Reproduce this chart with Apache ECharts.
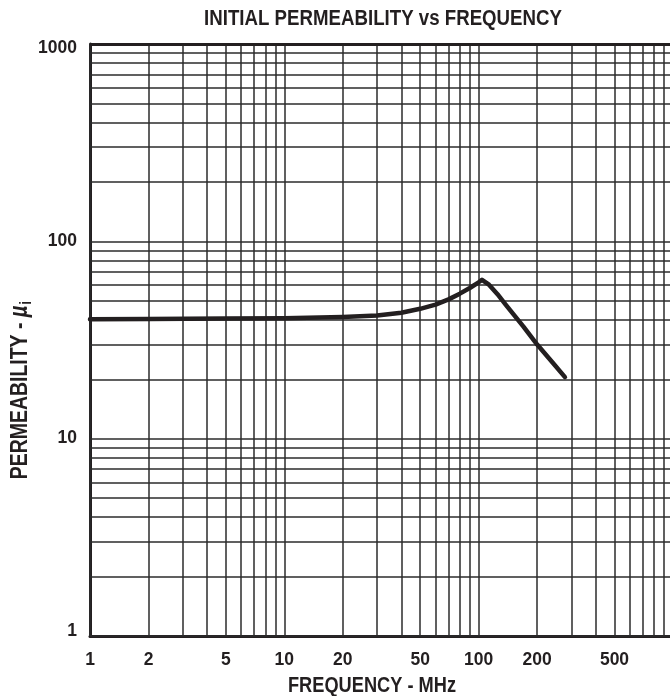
<!DOCTYPE html>
<html>
<head>
<meta charset="utf-8">
<script src="https://cdn.jsdelivr.net/npm/echarts@6/dist/echarts.min.js"></script>
<style>
  html, body { margin: 0; padding: 0; background: #ffffff; }
  #chart { width: 670px; height: 696px; }
</style>
</head>
<body>
<div id="chart"></div>
<script>
// Initial permeability (µi) versus frequency (MHz), log-log
const freqMHz = [1, 2, 5, 10, 20, 30, 40, 50, 60, 70, 80, 90, 100, 104, 113, 125, 138, 170, 200, 240, 278];
const permeability = [40.3, 40.4, 40.6, 40.8, 41.4, 42.1, 43.5, 45.5, 47.8, 50.8, 54.3, 58, 62, 63.8, 60.3, 54, 47.7, 37, 30, 24.3, 20.5];

const xTickLabels = [1, 2, 5, 10, 20, 50, 100, 200, 500];
const yTickLabels = [1, 10, 100, 1000];
const decades = [1, 10, 100];
const multipliers = [1, 2, 3, 4, 5, 6, 7, 8, 9];

const titleText = 'INITIAL PERMEABILITY vs FREQUENCY';
const xName = 'FREQUENCY - MHz';
const yName = 'PERMEABILITY - {mu|µ}{sub|i}';

// log-paper rulings: every 1..9 step inside each decade
const rulings = [];
decades.forEach(d => multipliers.forEach(m => rulings.push(m * d)));
rulings.push(1000);

const ink = '#231f20';
const gridInk = '#2b2b2b';
const sans = '"Liberation Sans", Arial, Helvetica, sans-serif';
// headings are set in a condensed bold face: regular bold squeezed horizontally
const condense = 0.81;

const tickFont = { fontFamily: sans, fontWeight: 'bold', fontSize: 17.5, color: ink };

const chart = echarts.init(document.getElementById('chart'), null, { renderer: 'canvas' });

chart.setOption({
  backgroundColor: '#ffffff',
  animation: false,
  graphic: [
    {
      type: 'text',
      x: 383, y: 19,
      scaleX: 0.83,
      silent: true,
      style: {
        text: titleText,
        fontFamily: sans, fontWeight: 'bold', fontSize: 22.5, fill: ink,
        align: 'center', verticalAlign: 'middle'
      }
    },
    {
      type: 'text',
      x: 372, y: 686,
      scaleX: condense,
      silent: true,
      style: {
        text: xName,
        fontFamily: sans, fontWeight: 'bold', fontSize: 22.5, fill: ink,
        align: 'center', verticalAlign: 'middle'
      }
    },
    {
      type: 'text',
      x: 20, y: 390,
      rotation: Math.PI / 2,
      scaleX: condense,
      silent: true,
      style: {
        text: yName,
        fontFamily: sans, fontWeight: 'bold', fontSize: 24, fill: ink,
        align: 'center', verticalAlign: 'middle',
        rich: {
          mu: { fontFamily: sans, fontStyle: 'italic', fontWeight: 'bold', fontSize: 25, fill: ink },
          sub: { fontFamily: sans, fontWeight: 'bold', fontSize: 17, fill: ink, padding: [12, 0, 0, 1] }
        }
      }
    }
  ],
  grid: { left: 90, top: 44, right: -3, bottom: 60, show: false, outerBoundsMode: 'none' },
  xAxis: {
    type: 'log',
    logBase: 10,
    min: 1,
    max: 1000,
    axisLine: { show: true, onZero: false, lineStyle: { color: ink, width: 3 } },
    axisTick: { show: false },
    splitLine: { show: false },
    axisLabel: Object.assign({
      customValues: xTickLabels,
      formatter: v => String(v),
      margin: 15
    }, tickFont)
  },
  yAxis: {
    type: 'log',
    logBase: 10,
    min: 1,
    max: 1000,
    axisLine: { show: true, onZero: false, lineStyle: { color: ink, width: 3 } },
    axisTick: { show: false },
    splitLine: { show: false },
    axisLabel: Object.assign({
      customValues: yTickLabels,
      // end labels sit slightly inside the frame
      formatter: v => v === 1000 ? '{hi|' + v + '}' : (v === 1 ? '{lo|' + v + '}' : String(v)),
      margin: 13,
      rich: {
        hi: Object.assign({ padding: [8, 0, 0, 0] }, tickFont),
        lo: Object.assign({ padding: [0, 0, 10, 0] }, tickFont)
      }
    }, tickFont)
  },
  series: [
    {
      name: 'rulings',
      type: 'line',
      data: [],
      z: 1,
      silent: true,
      markLine: {
        silent: true,
        symbol: ['none', 'none'],
        label: { show: false },
        animation: false,
        lineStyle: { color: gridInk, width: 1.5, type: 'solid' },
        emphasis: { disabled: true },
        data: rulings.map(v => ({ xAxis: v })).concat(rulings.map(v => ({ yAxis: v })))
      }
    },
    {
      name: 'border',
      type: 'line',
      data: [],
      z: 2,
      silent: true,
      markLine: {
        silent: true,
        symbol: ['none', 'none'],
        label: { show: false },
        animation: false,
        lineStyle: { color: ink, width: 3, type: 'solid' },
        emphasis: { disabled: true },
        data: [{ yAxis: 1000 }, { xAxis: 1000 }]
      }
    },
    {
      name: 'µi',
      type: 'line',
      z: 5,
      data: freqMHz.map((f, i) => [f, permeability[i]]),
      showSymbol: false,
      smooth: false,
      lineStyle: { color: ink, width: 4.5, join: 'round', cap: 'round' }
    }
  ]
});
</script>
</body>
</html>
